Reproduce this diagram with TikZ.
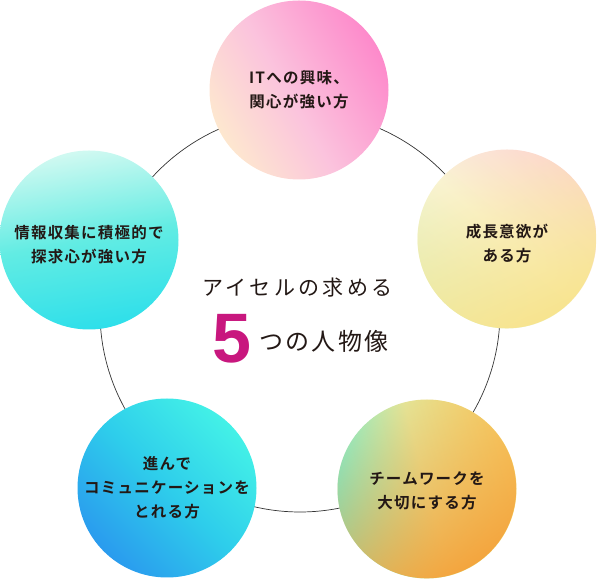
\documentclass[tikz,border=0pt]{standalone}
\usepackage{fontspec}
\usepackage{tikz}
\usetikzlibrary{positioning,fadings}
\setmainfont{Noto Sans CJK JP}[BoldFont={Noto Sans CJK JP Bold}]
\newfontfamily\digitfont{Liberation Sans}
\definecolor{ringgray}{HTML}{333333}
\definecolor{inkblack}{HTML}{231815}
\definecolor{accentpink}{HTML}{C8177E}
% gradient stops
\definecolor{peach}{HTML}{FDE7CF}
\definecolor{softpink}{HTML}{FBC3DD}
\definecolor{hotpink}{HTML}{FD8ACB}
\definecolor{palegreen}{HTML}{E2F3C7}
\definecolor{cream}{HTML}{FAF4D4}
\definecolor{blush}{HTML}{FDD8D7}
\definecolor{lemon}{HTML}{F8E48F}
\definecolor{deepcyan}{HTML}{2EDFEA}
\definecolor{midcyan}{HTML}{62ECE3}
\definecolor{palemint}{HTML}{D0F9F1}
\definecolor{skyblue}{HTML}{2A9BEE}
\definecolor{midblue}{HTML}{2ECDEB}
\definecolor{aqua}{HTML}{43F1E7}
\definecolor{mint}{HTML}{78E9CA}
\definecolor{butter}{HTML}{E4E497}
\definecolor{sunny}{HTML}{F6D46E}
\definecolor{orange}{HTML}{F4A53E}
\pgfdeclarehorizontalshading{pinkball}{100bp}{color(0bp)=(peach); color(25bp)=(peach); color(47bp)=(softpink); color(75bp)=(hotpink); color(100bp)=(hotpink)}
\pgfdeclarehorizontalshading{creamball}{100bp}{color(0bp)=(palegreen); color(25bp)=(palegreen); color(50bp)=(cream); color(75bp)=(blush); color(100bp)=(blush)}
\pgfdeclarehorizontalshading{mintball}{100bp}{color(0bp)=(deepcyan); color(25bp)=(deepcyan); color(50bp)=(midcyan); color(75bp)=(palemint); color(100bp)=(palemint)}
\pgfdeclarehorizontalshading{blueball}{100bp}{color(0bp)=(skyblue); color(25bp)=(skyblue); color(50bp)=(midblue); color(75bp)=(aqua); color(100bp)=(aqua)}
\pgfdeclarehorizontalshading{orangeball}{100bp}{color(0bp)=(mint); color(25bp)=(mint); color(50bp)=(butter); color(75bp)=(sunny); color(100bp)=(sunny)}
\tikzfading[name=rimfade,left color=transparent!100,middle color=transparent!100,right color=transparent!0]

\begin{document}
\begin{tikzpicture}[x=1pt,y=1pt,
  ball/.style={circle,minimum size=179pt,inner sep=0pt,shade,shading angle=#1},
  glow/.style={path fading=rimfade,fading angle=#1},
  caption/.style={align=center,text=inkblack,font=\fontsize{15.5}{24}\selectfont\bfseries\addfontfeature{LetterSpace=8}}]
  \useasboundingbox (0,0) rectangle (597,580);
  % ring behind the five circles
  \coordinate (hub) at (300,268);
  \draw[ringgray,line width=0.7pt] (hub) circle (200);
  \node[ball=30,shading=pinkball] (interest) at (299,490) {};
  \node[ball=50,shading=creamball] (growth) at (507,341) {};
  \node[ball=100,shading=mintball] (research) at (89,340) {};
  \node[ball=45,shading=blueball] (dialogue) at (167,92) {};
  \node[ball=15,shading=orangeball] (teamwork) at (427,91) {};
  % warm tints towards the rim
  \fill[lemon,glow=-65] (growth) circle (89.5);
  \fill[orange,glow=-60] (teamwork) circle (89.5);
  % captions
  \node[caption] at (interest) {ITへの興味、\\関心が強い方};
  \node[caption] at ([yshift=-5pt]growth.center) {成長意欲が\\ある方};
  \node[caption] at ([yshift=-5pt]research.center) {情報収集に積極的で\\探求心が強い方};
  \node[caption] at (dialogue) {進んで\\コミュニケーションを\\とれる方};
  \node[caption] at ([yshift=-2pt]teamwork.center) {チームワークを\\大切にする方};
  % centre heading
  \node[anchor=base west,inner sep=0pt,text=inkblack,font=\fontsize{21}{21}\selectfont\addfontfeature{LetterSpace=16}] (headline) at (202,284.5) {アイセルの求める};
  \node[anchor=base west,inner sep=0pt,text=accentpink,font=\digitfont\bfseries\fontsize{70}{70}\selectfont] (five) at (212,217) {5};
  \node[anchor=base west,inner sep=0pt,text=inkblack,font=\fontsize{24}{24}\selectfont\addfontfeature{LetterSpace=10}] (persona) at (259,229) {つの人物像};
\end{tikzpicture}
\end{document}
